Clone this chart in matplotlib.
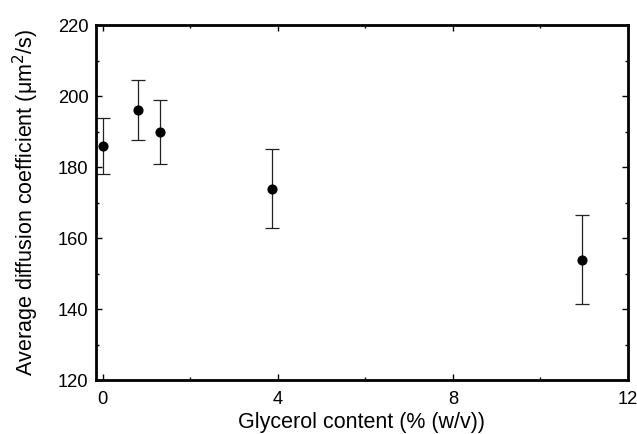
import matplotlib
matplotlib.use("Agg")
import matplotlib.pyplot as plt
from matplotlib.ticker import MultipleLocator

plt.rcParams['font.family'] = ['Liberation Sans', 'DejaVu Sans']

glycerol = [0.0, 0.8, 1.32, 3.88, 10.95]
diff_coef = [185.9, 196.1, 189.9, 173.9, 153.9]
err = [7.9, 8.5, 9.0, 11.2, 12.5]

fig = plt.figure(figsize=(6.37, 4.34), dpi=100)
ax = fig.add_axes([0.150, 0.1244, 0.836, 0.8176])

ax.errorbar(glycerol, diff_coef, yerr=err, fmt='o', color='black',
            markersize=6.3, ecolor='#222222', elinewidth=0.9, capsize=4.7,
            capthick=0.9)

ax.set_xlim(-0.16, 12)
ax.set_ylim(120, 220)
ax.xaxis.set_major_locator(MultipleLocator(4))
ax.xaxis.set_minor_locator(MultipleLocator(2))
ax.yaxis.set_major_locator(MultipleLocator(20))
ax.yaxis.set_minor_locator(MultipleLocator(10))

ax.tick_params(which='both', direction='in', top=True, right=True, width=1.0)
ax.tick_params(which='major', length=4, labelsize=13.2)
ax.tick_params(axis='y', which='major', pad=5)
ax.tick_params(axis='x', which='major', pad=8)
ax.tick_params(which='minor', length=2.5)
for s in ax.spines.values():
    s.set_linewidth(2.0)

ax.set_xlabel('Glycerol content (% (w/v))', fontsize=15.5, labelpad=3)
ax.set_ylabel('Average diffusion coefficient (μm$^2$/s)', fontsize=15.5, labelpad=12)

fig.savefig('out.png', dpi=100)
